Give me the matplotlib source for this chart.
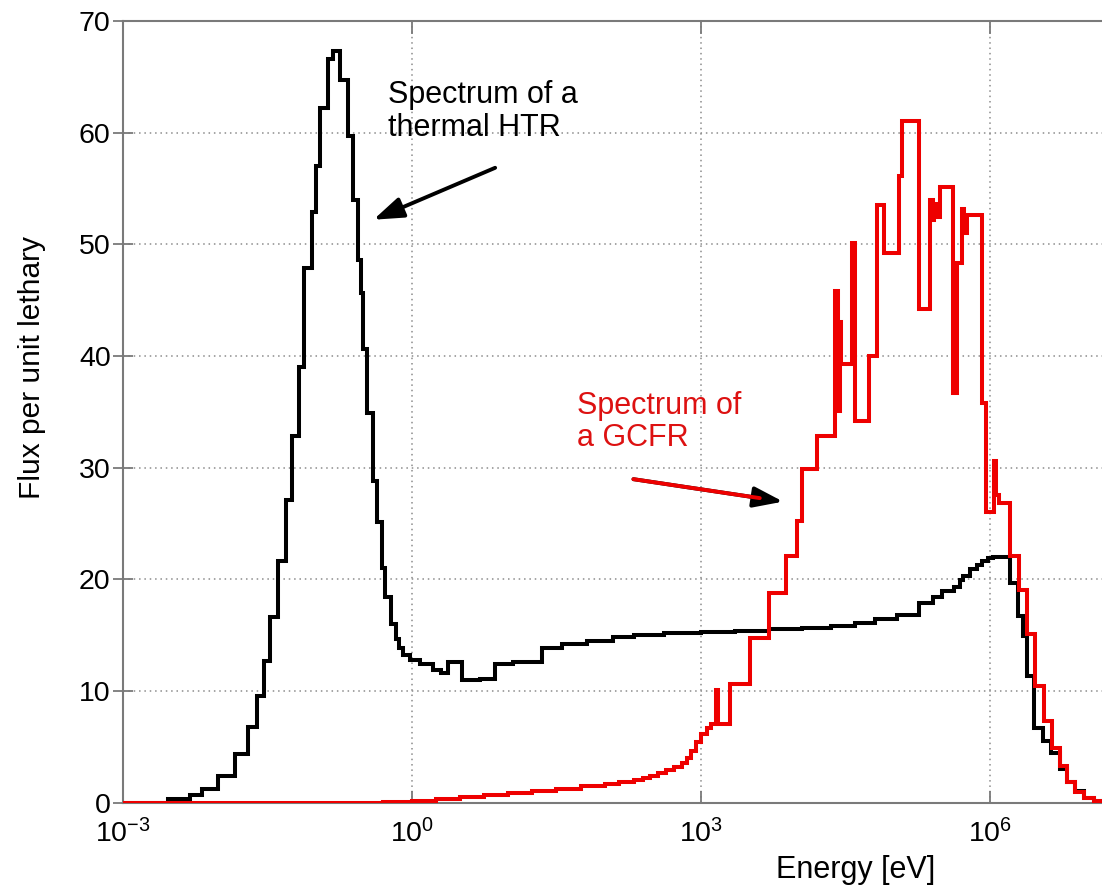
import numpy as np
import matplotlib.pyplot as plt
from matplotlib.ticker import FixedLocator, NullLocator, LogFormatterSciNotation

plt.rcParams['font.family'] = ['Liberation Sans', 'DejaVu Sans']
plt.rcParams['mathtext.default'] = 'regular'

# thermal HTR: log10 of group bounds [eV] and flux per unit lethargy
htr_log_edges = [-3.0, -2.524, -2.299, -2.178, -2.005, -1.832, -1.694, -1.608, -1.532, -1.469,
                 -1.393, -1.307, -1.245, -1.169, -1.117, -1.037, -0.993, -0.951, -0.865, -0.813,
                 -0.744, -0.657, -0.612, -0.554, -0.529, -0.502, -0.467, -0.398, -0.363, -0.312,
                 -0.277, -0.218, -0.163, -0.128, -0.087, -0.018, 0.086, 0.224, 0.30, 0.38,
                 0.518, 0.709, 0.864, 1.054, 1.348, 1.555, 1.815, 2.091, 2.299, 2.61,
                 3.0, 3.35, 3.7, 4.05, 4.35, 4.6, 4.8, 5.03, 5.26, 5.40,
                 5.50, 5.62, 5.68, 5.72, 5.79, 5.86, 5.91, 5.97, 6.03, 6.208,
                 6.285, 6.339, 6.381, 6.457, 6.547, 6.63, 6.726, 6.795, 6.882, 6.968,
                 7.072, 7.157]
htr_flux = [0.0, 0.3, 0.7, 1.2, 2.4, 4.3, 6.8, 9.5, 12.7, 16.6,
            21.6, 27.1, 32.8, 39.0, 47.9, 52.9, 57.0, 62.2, 66.6, 67.3,
            64.7, 59.7, 54.0, 48.6, 45.6, 40.6, 34.9, 28.8, 25.1, 21.0,
            18.4, 16.0, 14.6, 13.8, 13.2, 12.8, 12.4, 11.9, 11.6, 12.6,
            11.0, 11.1, 12.4, 12.6, 13.8, 14.2, 14.5, 14.8, 15.0, 15.2,
            15.3, 15.4, 15.5, 15.6, 15.8, 16.1, 16.4, 16.8, 17.85, 18.4,
            18.9, 19.3, 19.9, 20.3, 20.9, 21.3, 21.6, 21.9, 22.0, 19.7,
            16.7, 14.9, 11.3, 6.7, 5.5, 4.4, 3.0, 1.8, 1.0, 0.4,
            0.1]

# GCFR
gcfr_log_edges = [-3.0, -0.30, 0.0, 0.25, 0.5, 0.75, 1.0, 1.25, 1.5, 1.75,
                  2.0, 2.15, 2.30, 2.40, 2.47, 2.55, 2.64, 2.72, 2.80, 2.85,
                  2.90, 2.95, 3.00, 3.06, 3.10, 3.15, 3.175, 3.30, 3.51, 3.70,
                  3.875, 3.996, 4.047, 4.203, 4.393, 4.415, 4.435, 4.452, 4.566, 4.600,
                  4.739, 4.825, 4.901, 5.050, 5.084, 5.257, 5.378, 5.40, 5.42, 5.44,
                  5.482, 5.613, 5.655, 5.707, 5.73, 5.758, 5.914, 5.949, 6.035, 6.06,
                  6.087, 6.208, 6.294, 6.381, 6.467, 6.553, 6.640, 6.726, 6.795, 6.882,
                  6.968, 7.072, 7.157]
gcfr_flux = [0.0, 0.05, 0.15, 0.3, 0.45, 0.65, 0.85, 1.05, 1.25, 1.45,
             1.65, 1.8, 2.0, 2.2, 2.4, 2.6, 2.9, 3.2, 3.5, 4.0,
             4.6, 5.4, 6.1, 6.7, 7.0, 10.1, 7.0, 10.6, 14.7, 18.8,
             22.1, 25.2, 29.85, 32.8, 45.8, 35.1, 43.0, 39.3, 50.1, 34.2,
             40.0, 53.5, 49.2, 56.1, 61.0, 44.2, 54.0, 52.2, 53.6, 52.4,
             55.1, 36.7, 48.3, 53.2, 51.0, 52.6, 35.8, 26.0, 30.6, 27.5,
             26.8, 22.1, 19.0, 15.1, 10.4, 7.3, 4.9, 3.3, 1.8, 0.9,
             0.4, 0.15]

xticks = [1e-3, 1e0, 1e3, 1e6]
yticks = list(range(0, 80, 10))

fig = plt.figure(figsize=(11.02, 8.89), dpi=100)
ax = fig.add_axes([0.1112, 0.0973, 0.8888, 0.8791])

ax.stairs(htr_flux, 10 ** np.array(htr_log_edges), baseline=None, color='black', lw=2.9, zorder=3)
ax.stairs(gcfr_flux, 10 ** np.array(gcfr_log_edges), baseline=None, color='#ee0000', lw=2.9, zorder=4)

ax.set_xscale('log')
ax.set_xlim(1e-3, 10 ** 7.157)
ax.set_ylim(0, 70)
ax.xaxis.set_major_locator(FixedLocator(xticks))
ax.xaxis.set_major_formatter(LogFormatterSciNotation())
ax.xaxis.set_minor_locator(NullLocator())
ax.set_yticks(yticks)

ax.grid(True, color='#8c8c8c', linestyle=(0, (1, 2.5)), lw=1.1)
for s in ['left', 'bottom', 'top']:
    ax.spines[s].set_color('#7a7a7a')
    ax.spines[s].set_linewidth(1.5)
ax.spines['right'].set_visible(False)

ax.tick_params(axis='x', direction='in', length=9, width=1.3, color='#7a7a7a',
               labelsize=20.5, pad=12, top=True)
ax.tick_params(axis='y', direction='inout', length=14, width=1.3, color='#7a7a7a',
               labelsize=20.5, pad=1.5)

ax.set_xlabel('Energy [eV]', fontsize=22)
ax.xaxis.set_label_coords(0.748, -0.067)
ax.set_ylabel('Flux per unit lethary', fontsize=21.5)
ax.yaxis.set_label_coords(-0.078, 0.556)

ax.text(10 ** -0.246, 61.9, 'Spectrum of a\nthermal HTR', fontsize=22,
        ha='left', va='center', color='black', linespacing=1.1)
ax.text(10 ** 1.714, 34.1, 'Spectrum of\na GCFR', fontsize=22,
        ha='left', va='center', color='#dd1111', linespacing=1.1)

head = dict(arrowstyle='-|>,head_length=1.0,head_width=0.35', mutation_scale=18,
            color='black', lw=2.8, shrinkA=0, shrinkB=0)
ax.annotate('', xy=(0.40, 52.2), xytext=(7.31, 56.85), arrowprops=head, zorder=5)
ax.annotate('', xy=(7080, 26.95), xytext=(198.6, 28.96), arrowprops=head, zorder=5)
ax.annotate('', xy=(7080, 26.95), xytext=(198.6, 28.96),
            arrowprops=dict(arrowstyle='-', color='#ee0000', lw=2.8, shrinkA=0, shrinkB=17),
            zorder=6)

fig.savefig('out.png', dpi=100)
